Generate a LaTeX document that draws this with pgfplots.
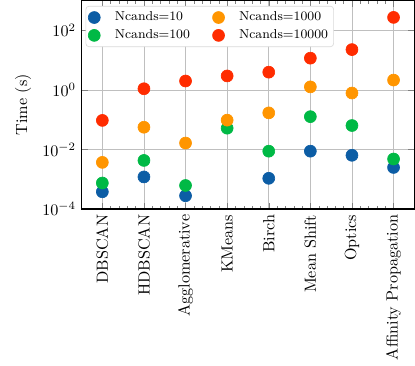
\documentclass[border=0pt]{standalone}
\usepackage{pgfplots}
\pgfplotsset{compat=1.18}

\definecolor{sciblue}{HTML}{0C5DA5}
\definecolor{scigreen}{HTML}{00B945}
\definecolor{sciorange}{HTML}{FF9500}
\definecolor{scired}{HTML}{FF2C00}

\pgfplotsset{pt/.style={only marks, mark=*, mark size=3.7pt, draw=#1, fill=#1}}

\begin{document}
\begin{tikzpicture}
\begin{axis}[
    scale only axis,
    width=206pt, height=129pt,
    ymode=log,
    ymin=1e-4, ymax=1e3,
    ytick={1e-4,1e-2,1e0,1e2},
    yminorticks=false,
    xmin=-0.5, xmax=7.5,
    xtick={0,...,7},
    xticklabels={DBSCAN,HDBSCAN,Agglomerative,KMeans,Birch,Mean Shift,Optics,Affinity Propagation},
    xticklabel style={rotate=90, anchor=east},
    minor x tick num=4,
    tick align=inside,
    tick pos=both,
    major tick length=4pt,
    minor tick length=2pt,
    grid=major,
    major grid style={gray!50, line width=0.5pt},
    axis line style={line width=0.8pt},
    ylabel={Time (s)},
    legend style={at={(0.012,0.975)}, anchor=north west, font=\footnotesize,
        draw=gray!30, rounded corners=2pt, inner sep=1.5pt},
    legend columns=2,
    legend cell align=left,
    legend style={/tikz/every even column/.append style={column sep=12pt},
                  /tikz/every odd column/.append style={column sep=7pt}},
]
\addplot[pt=sciblue, forget plot] coordinates {
(0,3.8e-4) (1,1.2e-3) (2,2.8e-4) (4,1.08e-3) (5,8.8e-3) (6,6.4e-3) (7,2.5e-3)};
\addplot[pt=scigreen, forget plot] coordinates {
(0,7.5e-4) (1,4.3e-3) (2,6.2e-4) (3,0.052) (4,8.8e-3) (5,0.127) (6,0.064) (7,4.8e-3)};
\addplot[pt=sciorange, forget plot] coordinates {
(0,3.7e-3) (1,0.056) (2,0.0165) (3,0.097) (4,0.17) (5,1.27) (6,0.79) (7,2.15)};
\addplot[pt=scired, forget plot] coordinates {
(0,0.095) (1,1.1) (2,2.0) (3,2.96) (4,3.96) (5,11.7) (6,22.7) (7,274)};
\addlegendimage{pt=sciblue}
\addlegendentry{Ncands=10}
\addlegendimage{pt=sciorange}
\addlegendentry{Ncands=1000}
\addlegendimage{pt=scigreen}
\addlegendentry{Ncands=100}
\addlegendimage{pt=scired}
\addlegendentry{Ncands=10000}
\end{axis}
\path (current axis.outer west) ++(-6pt,0) coordinate (padleft);
\end{tikzpicture}
\end{document}
